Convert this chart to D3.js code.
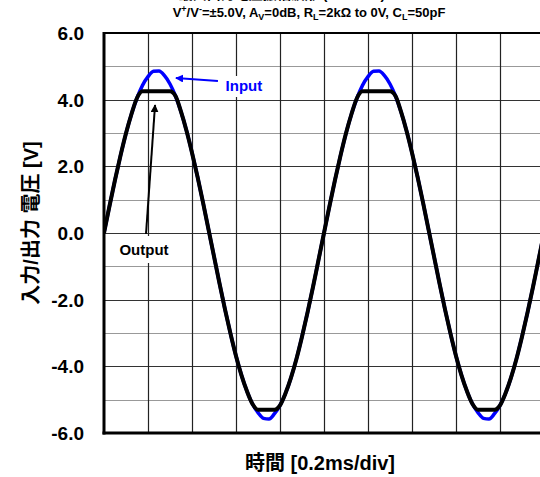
<!DOCTYPE html>
<html>
<head>
<meta charset="utf-8">
<script src="https://cdn.jsdelivr.net/npm/d3@7"></script>
<style>
  html, body { margin: 0; padding: 0; background: #fff; }
  svg { display: block; }
  text { font-family: "Liberation Sans", Arial, "Noto Sans CJK JP", sans-serif; font-weight: bold; }
</style>
</head>
<body>
<svg id="chart" width="540" height="477"></svg>
<script>
// Waveform samples: one every 0.025 ms over 10 divisions (0.2 ms/div)
const sampleStepMs = 0.025;

const inputVolts = [
  0.00, 0.81, 1.59, 2.32, 2.99, 3.57, 4.05, 4.43, 4.69, 4.85,
  4.86, 4.72, 4.47, 4.11, 3.64, 3.07, 2.41, 1.69, 0.92, 0.11,
  -0.70, -1.51, -2.29, -3.02, -3.69, -4.27, -4.75, -5.13, -5.39, -5.56,
  -5.58, -5.42, -5.17, -4.81, -4.34, -3.77, -3.11, -2.39, -1.62, -0.81,
  0.00, 0.81, 1.59, 2.32, 2.99, 3.57, 4.05, 4.43, 4.69, 4.85,
  4.86, 4.72, 4.47, 4.11, 3.64, 3.07, 2.41, 1.69, 0.92, 0.11,
  -0.70, -1.51, -2.29, -3.02, -3.69, -4.27, -4.75, -5.13, -5.39, -5.56,
  -5.58, -5.42, -5.17, -4.81, -4.34, -3.77, -3.11, -2.39, -1.62, -0.81,
  0.00
];

const outputVolts = [
  0.00, 0.81, 1.59, 2.32, 2.99, 3.57, 4.05, 4.25, 4.25, 4.25,
  4.25, 4.25, 4.25, 4.11, 3.64, 3.07, 2.41, 1.69, 0.92, 0.11,
  -0.70, -1.51, -2.29, -3.02, -3.69, -4.27, -4.75, -5.13, -5.30, -5.30,
  -5.30, -5.30, -5.17, -4.81, -4.34, -3.77, -3.11, -2.39, -1.62, -0.81,
  0.00, 0.81, 1.59, 2.32, 2.99, 3.57, 4.05, 4.25, 4.25, 4.25,
  4.25, 4.25, 4.25, 4.11, 3.64, 3.07, 2.41, 1.69, 0.92, 0.11,
  -0.70, -1.51, -2.29, -3.02, -3.69, -4.27, -4.75, -5.13, -5.30, -5.30,
  -5.30, -5.30, -5.17, -4.81, -4.34, -3.77, -3.11, -2.39, -1.62, -0.81,
  0.00
];

const yTickValues = [6, 4, 2, 0, -2, -4, -6];
const yTickLabels = ["6.0", "4.0", "2.0", "0.0", "-2.0", "-4.0", "-6.0"];
const yGridValues = [5, 4, 3, 2, 1, 0, -1, -2, -3, -4, -5];
const xGridValues = [0.2, 0.4, 0.6, 0.8, 1.0, 1.2, 1.4, 1.6, 1.8];

const svg = d3.select("#chart");
const plot = { left: 104, top: 33, width: 440, height: 400 };

const x = d3.scaleLinear().domain([0, 2.0]).range([plot.left, plot.left + plot.width]);
const y = d3.scaleLinear().domain([-6, 6]).range([plot.top + plot.height, plot.top]);

svg.append("defs").append("clipPath").attr("id", "plotClip")
  .append("rect")
  .attr("x", plot.left).attr("y", plot.top)
  .attr("width", plot.width).attr("height", plot.height);

// Grid
const grid = svg.append("g");
grid.selectAll("line.h").data(yGridValues).join("line")
  .attr("x1", plot.left).attr("x2", plot.left + plot.width)
  .attr("y1", d => Math.round(y(d)) + 0.5).attr("y2", d => Math.round(y(d)) + 0.5)
  .attr("stroke", d => (d % 2 === 0 ? "#333" : "#999"))
  .attr("stroke-width", 1.2);
grid.selectAll("line.v").data(xGridValues).join("line")
  .attr("x1", d => Math.round(x(d)) + 0.5).attr("x2", d => Math.round(x(d)) + 0.5)
  .attr("y1", plot.top).attr("y2", plot.top + plot.height)
  .attr("stroke", "#222")
  .attr("stroke-width", 1.2);

// Label backgrounds
const ann = svg.append("g");
ann.append("rect")
  .attr("x", x(0.009)).attr("y", y(-0.09))
  .attr("width", x(0.382) - x(0.009)).attr("height", y(-0.9) - y(-0.09))
  .attr("fill", "#fff");
ann.append("rect")
  .attr("x", x(0.532)).attr("y", y(4.71))
  .attr("width", x(0.745) - x(0.532)).attr("height", y(4.08) - y(4.71))
  .attr("fill", "#fff");

// Traces
const times = d3.range(inputVolts.length).map(i => i * sampleStepMs);
const line = d3.line()
  .x((d, i) => x(times[i]))
  .y(d => y(d))
  .curve(d3.curveMonotoneX);

const traces = svg.append("g").attr("clip-path", "url(#plotClip)");
traces.append("path")
  .attr("d", line(inputVolts))
  .attr("fill", "none")
  .attr("stroke", "#0000ff")
  .attr("stroke-width", 3.5)
  .attr("stroke-linejoin", "round");
traces.append("path")
  .attr("d", line(outputVolts))
  .attr("fill", "none")
  .attr("stroke", "#000")
  .attr("stroke-width", 4)
  .attr("stroke-linejoin", "round");

// Frame
const frame = svg.append("g").attr("stroke", "#000").attr("fill", "none");
frame.append("line")
  .attr("x1", plot.left).attr("x2", plot.left)
  .attr("y1", plot.top - 1).attr("y2", plot.top + plot.height + 1.5)
  .attr("stroke-width", 3);
frame.append("line")
  .attr("x1", plot.left - 1.5).attr("x2", plot.left + plot.width)
  .attr("y1", plot.top + plot.height).attr("y2", plot.top + plot.height)
  .attr("stroke-width", 3);
frame.append("line")
  .attr("x1", plot.left).attr("x2", plot.left + plot.width)
  .attr("y1", plot.top).attr("y2", plot.top)
  .attr("stroke-width", 2);
frame.append("line")
  .attr("x1", plot.left + plot.width).attr("x2", plot.left + plot.width)
  .attr("y1", plot.top).attr("y2", plot.top + plot.height)
  .attr("stroke-width", 2);

// Y tick labels
svg.append("g").selectAll("text").data(yTickValues).join("text")
  .attr("x", 84)
  .attr("y", d => y(d))
  .attr("dy", "0.36em")
  .attr("text-anchor", "end")
  .attr("font-size", 19)
  .attr("fill", "#000")
  .text((d, i) => yTickLabels[i]);

// Axis titles
svg.append("text")
  .attr("transform", `translate(38, ${y(0) - 10}) rotate(-90)`)
  .attr("text-anchor", "middle")
  .attr("font-size", 20)
  .text("入力/出力 電圧 [V]");

svg.append("text")
  .attr("x", 320).attr("y", 470)
  .attr("text-anchor", "middle")
  .attr("font-size", 20)
  .text("時間 [0.2ms/div]");

// Titles (the first line sits at the very top edge of the canvas)
svg.append("text")
  .attr("x", 282).attr("y", -1)
  .attr("text-anchor", "middle")
  .attr("font-size", 14)
  .text("最大出力電圧振幅波形 (Ta=25℃)");

const sub = svg.append("text")
  .attr("x", 309).attr("y", 17)
  .attr("text-anchor", "middle")
  .attr("font-size", 13);
sub.append("tspan").text("V");
sub.append("tspan").attr("font-size", 9).attr("dy", -5).text("+");
sub.append("tspan").attr("dy", 5).text("/V");
sub.append("tspan").attr("font-size", 9).attr("dy", -5).text("-");
sub.append("tspan").attr("dy", 5).text("=±5.0V, A");
sub.append("tspan").attr("font-size", 9).attr("dy", 3).text("V");
sub.append("tspan").attr("dy", -3).text("=0dB, R");
sub.append("tspan").attr("font-size", 9).attr("dy", 3).text("L");
sub.append("tspan").attr("dy", -3).text("=2kΩ to 0V, C");
sub.append("tspan").attr("font-size", 9).attr("dy", 3).text("L");
sub.append("tspan").attr("dy", -3).text("=50pF");

// Annotations
const defs = svg.select("defs");
defs.append("marker").attr("id", "arrowBlue")
  .attr("viewBox", "0 0 10 10").attr("refX", 9).attr("refY", 5)
  .attr("markerWidth", 4).attr("markerHeight", 4).attr("orient", "auto")
  .append("path").attr("d", "M0,0 L10,5 L0,10 z").attr("fill", "#0000ff");
defs.append("marker").attr("id", "arrowBlack")
  .attr("viewBox", "0 0 10 10").attr("refX", 9).attr("refY", 5)
  .attr("markerWidth", 4).attr("markerHeight", 4).attr("orient", "auto")
  .append("path").attr("d", "M0,0 L10,5 L0,10 z").attr("fill", "#000");

svg.append("line")
  .attr("x1", x(0.518)).attr("y1", y(4.56))
  .attr("x2", x(0.327)).attr("y2", y(4.65))
  .attr("stroke", "#0000ff").attr("stroke-width", 2)
  .attr("marker-end", "url(#arrowBlue)");
svg.append("text")
  .attr("x", x(0.636)).attr("y", y(4.41))
  .attr("dy", "0.36em")
  .attr("text-anchor", "middle")
  .attr("font-size", 15)
  .attr("fill", "#0000ff")
  .text("Input");

svg.append("line")
  .attr("x1", x(0.191)).attr("y1", y(-0.03))
  .attr("x2", x(0.232)).attr("y2", y(3.84))
  .attr("stroke", "#000").attr("stroke-width", 2)
  .attr("marker-end", "url(#arrowBlack)");
svg.append("text")
  .attr("x", x(0.182)).attr("y", y(-0.51))
  .attr("dy", "0.36em")
  .attr("text-anchor", "middle")
  .attr("font-size", 15)
  .attr("fill", "#000")
  .text("Output");
</script>
</body>
</html>
